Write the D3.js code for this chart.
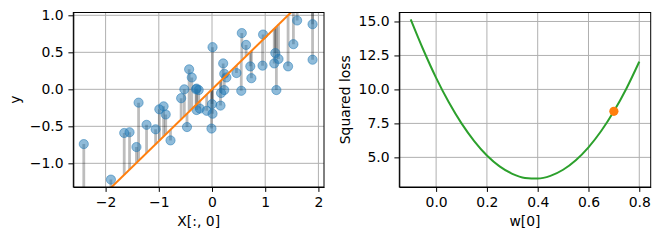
<!DOCTYPE html>
<html>
<head>
<meta charset="utf-8">
<script src="https://cdn.jsdelivr.net/npm/d3@7"></script>
<style>
  body { margin: 0; background: #fff; }
  text { font-family: "DejaVu Sans", sans-serif; fill: #000; }
  .axis text { font-size: 13.9px; }
  .axis path, .axis line { stroke: #000; stroke-width: 1; }
  .grid line { stroke: #b0b0b0; stroke-width: 1; }
  .label { font-size: 13.9px; }
</style>
</head>
<body>
<div class="chart"></div>
<script>
// sample points (left panel)
var sampleX = [-2.41, -1.90, -1.65, -1.55, -1.38, -1.42, -1.23, -1.06, -0.99, -0.91,
  -0.87, -0.78, -0.58, -0.52, -0.43, -0.38, -0.47, -0.29, -0.30, -0.25,
  -0.29, -0.23, -0.10, 0.01, 0.00, 0.01, -0.01, 0.17, 0.16, 0.21,
  0.23, 0.27, 0.23, 0.46, 0.55, 0.56, 0.64, 0.72, 0.74, 0.95,
  0.96, 1.17, 1.19, 1.21, 1.25, 1.43, 1.53, 1.60, 1.89, 1.89];
var sampleY = [-0.74, -1.22, -0.59, -0.58, -0.18, -0.78, -0.48, -0.54, -0.27, -0.23,
  -0.34, -0.69, -0.12, 0.00, 0.27, 0.16, -0.51, 0.01, 0.00, -0.01,
  -0.28, -0.26, -0.29, 0.57, -0.20, -0.33, -0.53, -0.05, -0.22, 0.35,
  0.21, 0.16, -0.01, 0.22, -0.02, 0.76, 0.60, 0.31, 0.15, 0.32,
  0.74, 0.35, 0.49, -0.01, 0.41, 0.31, 0.61, 0.93, 0.40, 0.88];

// fitted slope
var w0 = 0.7;
var lineX = [-2.5, 2.0];

// loss curve (right panel)
var lossW = [-0.10, -0.05, 0.00, 0.05, 0.10, 0.15, 0.20, 0.25, 0.30, 0.35,
  0.40, 0.45, 0.50, 0.55, 0.60, 0.65, 0.70, 0.75, 0.80];
var lossVal = [15.15, 12.9, 10.85, 9.05, 7.5, 6.2, 5.14, 4.34, 3.79, 3.49,
  3.44, 3.64, 4.09, 4.79, 5.74, 6.94, 8.39, 10.09, 12.04];
var currentLoss = 8.39;

var leftXTicks = [-2, -1, 0, 1, 2];
var leftYTicks = [-1.0, -0.5, 0.0, 0.5, 1.0];
var rightXTicks = [0.0, 0.2, 0.4, 0.6, 0.8];
var rightYTicks = [5.0, 7.5, 10.0, 12.5, 15.0];

var svgWidth = 659;
var svgHeight = 240;

var svg = d3.select(".chart")
  .append("svg")
  .attr("width", svgWidth)
  .attr("height", svgHeight);

var plotTop = 12.5, plotBottom = 187;
var tickLen = 4.9, tickPad = 4.9;

// ---------- left panel ----------
var x1 = d3.scaleLinear().domain([-2.607, 2.105]).range([73.3, 324]);
var y1 = d3.scaleLinear().domain([-1.32, 1.038]).range([plotBottom, plotTop]);

svg.append("clipPath").attr("id", "clip1")
  .append("rect")
  .attr("x", 73.3).attr("y", plotTop)
  .attr("width", 324 - 73.3).attr("height", plotBottom - plotTop);

// grid
var g1 = svg.append("g").attr("class", "grid");
g1.selectAll(".gx").data(leftXTicks).enter().append("line")
  .attr("x1", d => x1(d)).attr("x2", d => x1(d))
  .attr("y1", plotTop).attr("y2", plotBottom);
g1.selectAll(".gy").data(leftYTicks).enter().append("line")
  .attr("x1", 73.3).attr("x2", 324)
  .attr("y1", d => y1(d)).attr("y2", d => y1(d));

var plot1 = svg.append("g").attr("clip-path", "url(#clip1)");

// residuals
plot1.selectAll(".resid").data(sampleX).enter().append("line")
  .attr("x1", d => x1(d)).attr("x2", d => x1(d))
  .attr("y1", (d, i) => y1(sampleY[i]))
  .attr("y2", d => y1(w0 * d))
  .attr("stroke", "#000")
  .attr("stroke-opacity", 0.26)
  .attr("stroke-width", 2.8);

// points
plot1.selectAll(".pt").data(sampleX).enter().append("circle")
  .attr("cx", d => x1(d))
  .attr("cy", (d, i) => y1(sampleY[i]))
  .attr("r", 4.6)
  .attr("fill", "#1f77b4")
  .attr("fill-opacity", 0.5)
  .attr("stroke", "#1f77b4")
  .attr("stroke-opacity", 0.5)
  .attr("stroke-width", 1);

// fitted line
plot1.append("path")
  .datum(lineX)
  .attr("d", d3.line().x(d => x1(d)).y(d => y1(w0 * d)))
  .attr("fill", "none")
  .attr("stroke", "#ff7f0e")
  .attr("stroke-width", 2);

// axes
svg.append("g").attr("class", "axis")
  .attr("transform", `translate(0, ${plotBottom})`)
  .call(d3.axisBottom(x1).tickValues(leftXTicks).tickFormat(d3.format("d"))
    .tickSizeInner(tickLen).tickSizeOuter(0).tickPadding(tickPad));
svg.append("g").attr("class", "axis")
  .attr("transform", `translate(73.3, 0)`)
  .call(d3.axisLeft(y1).tickValues(leftYTicks).tickFormat(d3.format(".1f"))
    .tickSizeInner(tickLen).tickSizeOuter(0).tickPadding(tickPad));
svg.append("rect")
  .attr("x", 73.3).attr("y", plotTop)
  .attr("width", 324 - 73.3).attr("height", plotBottom - plotTop)
  .attr("fill", "none").attr("stroke", "#000").attr("stroke-width", 1);

svg.append("text").attr("class", "label")
  .attr("x", 198.7).attr("y", 225.5)
  .attr("text-anchor", "middle")
  .text("X[:, 0]");
svg.append("text").attr("class", "label")
  .attr("transform", `translate(19.5, ${(plotTop + plotBottom) / 2}) rotate(-90)`)
  .attr("text-anchor", "middle")
  .text("y");

// ---------- right panel ----------
var x2 = d3.scaleLinear().domain([-0.145, 0.845]).range([399.3, 650.7]);
var y2 = d3.scaleLinear().domain([2.82, 15.66]).range([plotBottom, plotTop]);

var g2 = svg.append("g").attr("class", "grid");
g2.selectAll(".gx").data(rightXTicks).enter().append("line")
  .attr("x1", d => x2(d)).attr("x2", d => x2(d))
  .attr("y1", plotTop).attr("y2", plotBottom);
g2.selectAll(".gy").data(rightYTicks).enter().append("line")
  .attr("x1", 399.3).attr("x2", 650.7)
  .attr("y1", d => y2(d)).attr("y2", d => y2(d));

svg.append("path")
  .datum(lossW)
  .attr("d", d3.line()
    .x(d => x2(d))
    .y((d, i) => y2(lossVal[i]))
    .curve(d3.curveMonotoneX))
  .attr("fill", "none")
  .attr("stroke", "#2ca02c")
  .attr("stroke-width", 2);

svg.append("circle")
  .attr("cx", x2(w0))
  .attr("cy", y2(currentLoss))
  .attr("r", 4.6)
  .attr("fill", "#ff7f0e");

svg.append("g").attr("class", "axis")
  .attr("transform", `translate(0, ${plotBottom})`)
  .call(d3.axisBottom(x2).tickValues(rightXTicks).tickFormat(d3.format(".1f"))
    .tickSizeInner(tickLen).tickSizeOuter(0).tickPadding(tickPad));
svg.append("g").attr("class", "axis")
  .attr("transform", `translate(399.3, 0)`)
  .call(d3.axisLeft(y2).tickValues(rightYTicks).tickFormat(d3.format(".1f"))
    .tickSizeInner(tickLen).tickSizeOuter(0).tickPadding(tickPad));
svg.append("rect")
  .attr("x", 399.3).attr("y", plotTop)
  .attr("width", 650.7 - 399.3).attr("height", plotBottom - plotTop)
  .attr("fill", "none").attr("stroke", "#000").attr("stroke-width", 1);

svg.append("text").attr("class", "label")
  .attr("x", (399.3 + 650.7) / 2).attr("y", 225.5)
  .attr("text-anchor", "middle")
  .text("w[0]");
svg.append("text").attr("class", "label")
  .attr("transform", `translate(349.5, ${(plotTop + plotBottom) / 2}) rotate(-90)`)
  .attr("text-anchor", "middle")
  .text("Squared loss");
</script>
</body>
</html>
